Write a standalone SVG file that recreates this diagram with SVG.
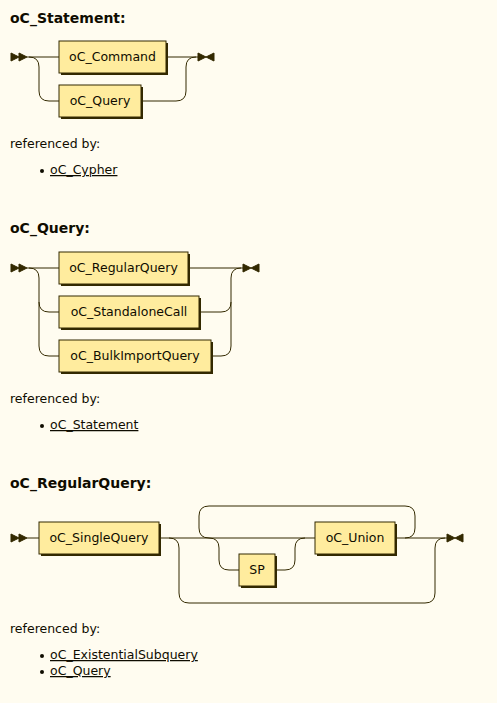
<svg xmlns="http://www.w3.org/2000/svg" width="497" height="703" viewBox="0 0 497 703">
<style>
.bg{fill:#FFFCF0}
.line{fill:none;stroke:#332900;stroke-width:1}
.arrow{fill:#332900;stroke:#332900;stroke-width:1}
.shadow{fill:#332900}
.nt{fill:#FFEC9E;stroke:#332900;stroke-width:1}
.lbl{font-family:"DejaVu Sans",Verdana,sans-serif;font-size:12.5px;fill:#0F0C00;text-anchor:middle}
.title{font-family:"DejaVu Sans",Verdana,sans-serif;font-size:14px;font-weight:bold;fill:#0F0C00}
.txt{font-family:"DejaVu Sans",Verdana,sans-serif;font-size:12.5px;fill:#0F0C00}
.link{font-family:"DejaVu Sans",Verdana,sans-serif;font-size:12.5px;fill:#0F0C00;text-decoration:underline}
.bullet{fill:#0F0C00}
</style>
<rect class="bg" x="0" y="0" width="497" height="703"/>

<g id="titles">
<text class="title" x="10" y="23">oC_Statement:</text>
<text class="title" x="10" y="233">oC_Query:</text>
<text class="title" x="10" y="488">oC_RegularQuery:</text>
</g>

<g id="connectors">
<!-- diagram 1 -->
<polygon class="arrow" points="19 57 11 53 11 61"/>
<polygon class="arrow" points="27 57 19 53 19 61"/>
<path class="line" d="M27 57 H59 M166 57 H198 M29 57 q10 0 10 10 v24 q0 10 10 10 H59 M141 101 H176 q10 0 10 -10 V67 q0 -10 10 -10"/>
<polygon class="arrow" points="206 57 198 53 198 61"/>
<polygon class="arrow" points="206 57 214 53 214 61"/>
<!-- diagram 2 -->
<polygon class="arrow" points="19 268 11 264 11 272"/>
<polygon class="arrow" points="27 268 19 264 19 272"/>
<path class="line" d="M27 268 H59 M188 268 H243 M29 268 q10 0 10 10 V346 q0 10 10 10 H59 M39 302 q0 10 10 10 H59 M211 356 H221 q10 0 10 -10 V278 q0 -10 10 -10 M199 312 H221 q10 0 10 -10"/>
<polygon class="arrow" points="251 268 243 264 243 272"/>
<polygon class="arrow" points="251 268 259 264 259 272"/>
<!-- diagram 3 -->
<polygon class="arrow" points="19 538 11 534 11 542"/>
<polygon class="arrow" points="27 538 19 534 19 542"/>
<path class="line" d="M27 538 H39 M159 538 H315 M169 538 q10 0 10 10 V593 q0 10 10 10 H425 q10 0 10 -10 V548 q0 -10 10 -10 M405 538 q10 0 10 -10 V516 q0 -10 -10 -10 H209 q-10 0 -10 10 V528 q0 10 10 10 M209 538 q10 0 10 10 V560 q0 10 10 10 H239 M275 570 H285 q10 0 10 -10 V548 q0 -10 10 -10 M395 538 H447"/>
<polygon class="arrow" points="455 538 447 534 447 542"/>
<polygon class="arrow" points="455 538 463 534 463 542"/>
</g>

<g id="oC_Command">
<rect class="shadow" x="61" y="43" width="107" height="32"/>
<rect class="nt" x="59" y="41" width="107" height="32"/>
<text class="lbl" x="112.5" y="61">oC_Command</text>
</g>
<g id="oC_Query_1">
<rect class="shadow" x="61" y="87" width="82" height="32"/>
<rect class="nt" x="59" y="85" width="82" height="32"/>
<text class="lbl" x="100" y="105">oC_Query</text>
</g>

<g id="oC_RegularQuery">
<rect class="shadow" x="61" y="254" width="129" height="32"/>
<rect class="nt" x="59" y="252" width="129" height="32"/>
<text class="lbl" x="123.5" y="272">oC_RegularQuery</text>
</g>
<g id="oC_StandaloneCall">
<rect class="shadow" x="61" y="298" width="140" height="32"/>
<rect class="nt" x="59" y="296" width="140" height="32"/>
<text class="lbl" x="129" y="316">oC_StandaloneCall</text>
</g>
<g id="oC_BulkImportQuery">
<rect class="shadow" x="61" y="342" width="152" height="32"/>
<rect class="nt" x="59" y="340" width="152" height="32"/>
<text class="lbl" x="135" y="360">oC_BulkImportQuery</text>
</g>

<g id="oC_SingleQuery">
<rect class="shadow" x="41" y="524" width="120" height="32"/>
<rect class="nt" x="39" y="522" width="120" height="32"/>
<text class="lbl" x="99" y="542">oC_SingleQuery</text>
</g>
<g id="SP">
<rect class="shadow" x="241" y="556" width="36" height="32"/>
<rect class="nt" x="239" y="554" width="36" height="32"/>
<text class="lbl" x="257" y="574">SP</text>
</g>
<g id="oC_Union">
<rect class="shadow" x="317" y="524" width="80" height="32"/>
<rect class="nt" x="315" y="522" width="80" height="32"/>
<text class="lbl" x="355" y="542">oC_Union</text>
</g>

<g id="refs_statement">
<text class="txt" x="10" y="148">referenced by:</text>
<circle class="bullet" cx="42" cy="171" r="2"/>
<text class="link" x="50" y="174">oC_Cypher</text>
</g>
<g id="refs_query">
<text class="txt" x="10" y="403">referenced by:</text>
<circle class="bullet" cx="42" cy="426" r="2"/>
<text class="link" x="50" y="429">oC_Statement</text>
</g>
<g id="refs_regularquery">
<text class="txt" x="10" y="633">referenced by:</text>
<circle class="bullet" cx="42" cy="656" r="2"/>
<text class="link" x="50" y="659">oC_ExistentialSubquery</text>
<circle class="bullet" cx="42" cy="672" r="2"/>
<text class="link" x="50" y="675">oC_Query</text>
</g>
</svg>
